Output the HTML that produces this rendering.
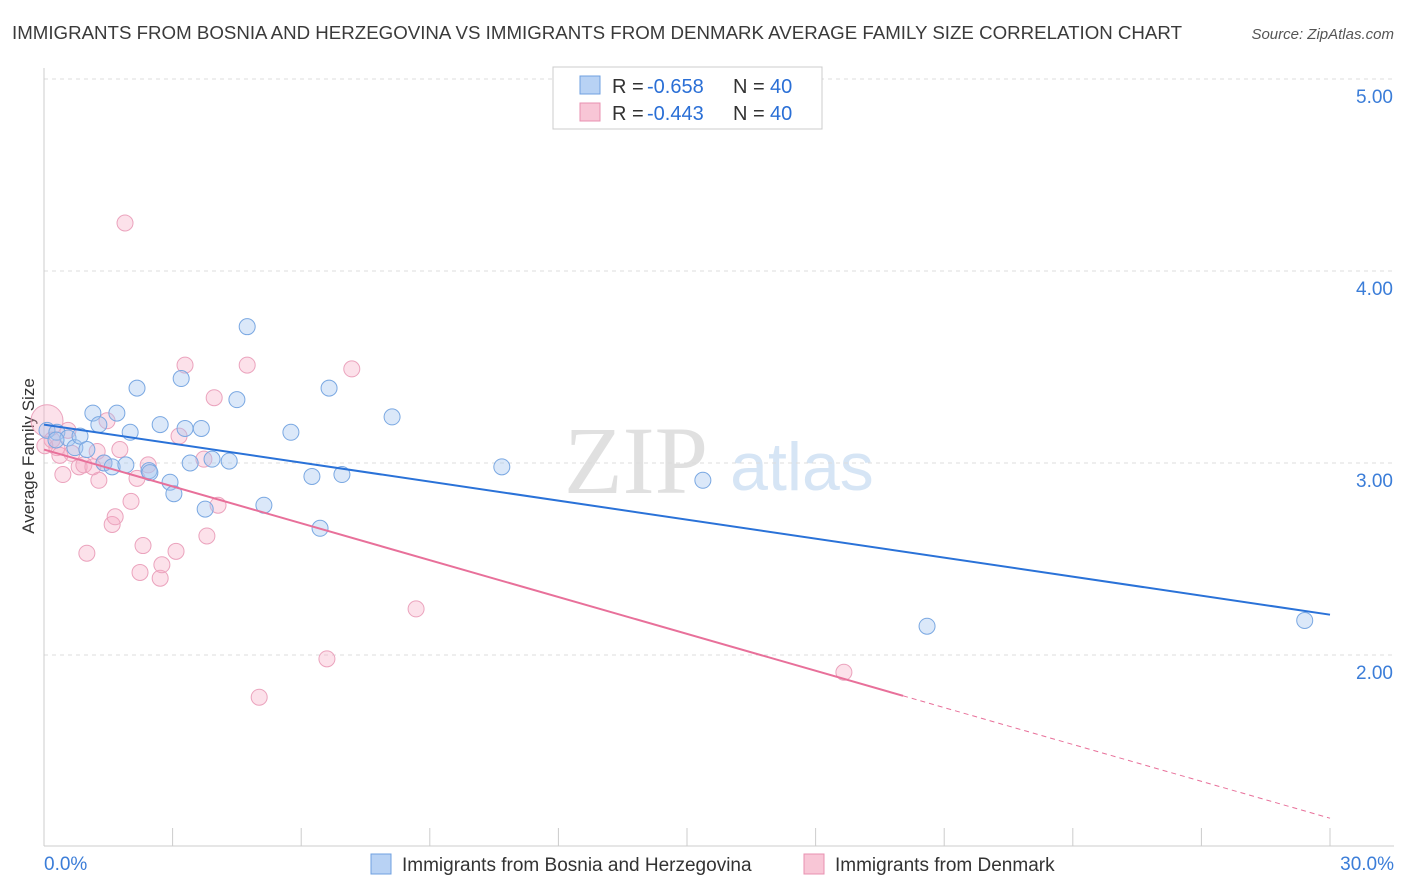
<!DOCTYPE html>
<html><head><meta charset="utf-8"><style>
body{margin:0;background:#fff;font-family:"Liberation Sans",sans-serif;}
#wrap{position:relative;width:1406px;height:892px;overflow:hidden}
</style></head><body>
<div id="wrap">
<svg id="svg" width="1406" height="892">
<text x="12" y="39" font-size="18" fill="#3a3a3a" textLength="1170" lengthAdjust="spacingAndGlyphs">IMMIGRANTS FROM BOSNIA AND HERZEGOVINA VS IMMIGRANTS FROM DENMARK AVERAGE FAMILY SIZE CORRELATION CHART</text>
<text x="1394" y="39" font-size="15" fill="#555" font-style="italic" text-anchor="end">Source: ZipAtlas.com</text>
<text x="636" y="493" font-size="96" fill="#e0e0e0" font-family="Liberation Serif,serif" text-anchor="middle">ZIP</text>
<text x="802" y="490" font-size="68" fill="#d6e5f5" text-anchor="middle">atlas</text>
<text transform="translate(34,456) rotate(-90)" font-size="17" fill="#333" text-anchor="middle">Average Family Size</text>
<g id="grid"></g><g id="marks"></g>
<g>
<rect x="553" y="67" width="269" height="62" fill="#fff" stroke="#ccc"/>
<rect x="580" y="76" width="20" height="18" fill="#b8d2f4" stroke="#6fa0e0"/>
<text x="612" y="93" font-size="20" fill="#333">R =</text>
<text x="647" y="93" font-size="20" fill="#2a6fd6">-0.658</text>
<text x="733" y="93" font-size="20" fill="#333">N =</text>
<text x="770" y="93" font-size="20" fill="#2a6fd6">40</text>
<rect x="580" y="103" width="20" height="18" fill="#f8c6d6" stroke="#e890b0"/>
<text x="612" y="120" font-size="20" fill="#333">R =</text>
<text x="647" y="120" font-size="20" fill="#2a6fd6">-0.443</text>
<text x="733" y="120" font-size="20" fill="#333">N =</text>
<text x="770" y="120" font-size="20" fill="#2a6fd6">40</text>
</g>
<g>
<rect x="371" y="854" width="20" height="20" fill="#b8d2f4" stroke="#6fa0e0"/>
<text x="402" y="871" font-size="19" fill="#333">Immigrants from Bosnia and Herzegovina</text>
<rect x="804" y="854" width="20" height="20" fill="#f8c6d6" stroke="#e890b0"/>
<text x="835" y="871" font-size="19" fill="#333">Immigrants from Denmark</text>
</g>
</svg></div>
<script>
const blueX=[0.07,0.30,0.56,0.72,0.84,1.14,1.28,1.40,1.59,1.70,1.91,2.01,2.17,2.45,2.47,2.71,2.94,3.03,3.20,3.29,3.41,3.67,3.76,3.92,4.32,4.50,4.74,5.13,5.76,6.25,6.44,6.65,6.95,8.12,10.68,15.37,20.60,29.41,1.00,0.28];
const blueY=[3.17,3.16,3.13,3.08,3.14,3.26,3.20,3.00,2.98,3.26,2.99,3.16,3.39,2.96,2.95,3.20,2.90,2.84,3.44,3.18,3.00,3.18,2.76,3.02,3.01,3.33,3.71,2.78,3.16,2.93,2.66,3.39,2.94,3.24,2.98,2.91,2.15,2.18,3.07,3.12];
const pinkX=[0.07,0.19,0.30,0.44,0.56,0.65,0.82,0.93,1.00,1.24,1.28,1.40,1.47,1.59,1.66,1.77,1.89,2.03,2.17,2.24,2.31,2.43,2.71,2.75,3.08,3.15,3.29,3.73,3.80,3.97,4.06,4.74,5.02,6.60,7.18,8.68,18.66,0.02,1.14,0.37];
const pinkY=[3.22,3.12,3.08,2.94,3.17,3.05,2.98,2.99,2.53,3.06,2.91,3.00,3.22,2.68,2.72,3.07,4.25,2.80,2.92,2.43,2.57,2.99,2.40,2.47,2.54,3.14,3.51,3.02,2.62,3.34,2.78,3.51,1.78,1.98,3.49,2.24,1.91,3.09,2.98,3.04];
const blueTrend=[3.20,2.21];
const pinkTrend=[3.07,1.15];
const yTicks=[2,3,4,5];
const yTickLabels=["2.00","3.00","4.00","5.00"];
const xTickLabels=["0.0%","30.0%"];
const NS="http://www.w3.org/2000/svg";
const sx=v=>44+v*42.867, sy=v=>463-(v-3)*192;
function mk(tag,attrs,parent){const e=document.createElementNS(NS,tag);for(const k in attrs)e.setAttribute(k,attrs[k]);parent.appendChild(e);return e;}
const grid=document.getElementById('grid'),marks=document.getElementById('marks');
yTicks.forEach((t,i)=>{
 const l=mk('line',{x1:44,x2:1394,y1:sy(t),y2:sy(t),stroke:'#ddd','stroke-dasharray':'4,4'},grid);
 
 
 const tx=mk('text',{x:1393,y:sy(t)+24,'font-size':19,fill:'#3b7dd8','text-anchor':'end'},grid);
 tx.textContent=yTickLabels[i];
 
 
});
const ax=mk('line',{x1:44,x2:1394,y1:846,y2:846,stroke:'#ccc'},grid);


const ay=mk('line',{x1:44,x2:44,y1:68,y2:846,stroke:'#ccc'},grid);


for(let i=0;i<=10;i++){const t=mk('line',{x1:sx(i*3),x2:sx(i*3),y1:828,y2:846,stroke:'#ccc'},grid);
 
 }
[[0,44,'start'],[30,1394,'end']].forEach((d,i)=>{const t=mk('text',{x:d[1],y:870,'font-size':19,fill:'#3b7dd8','text-anchor':d[2]},grid);t.textContent=xTickLabels[i];
 
 });
pinkX.forEach((x,i)=>{const c=mk('circle',{cx:sx(x),cy:sy(pinkY[i]),r:i===0?16:8,fill:'rgba(245,170,195,0.35)',stroke:'#eba3bd','stroke-width':1},marks);
 
 });
blueX.forEach((x,i)=>{const c=mk('circle',{cx:sx(x),cy:sy(blueY[i]),r:8,fill:'rgba(165,198,240,0.4)',stroke:'#7aa8e2','stroke-width':1},marks);
 
 });
const bl=mk('line',{x1:sx(0),y1:sy(blueTrend[0]),x2:sx(30),y2:sy(blueTrend[1]),stroke:'#2a72d8','stroke-width':2},marks);


const pf=x=>pinkTrend[0]+(pinkTrend[1]-pinkTrend[0])*x/30;
const pl=mk('line',{x1:sx(0),y1:sy(pf(0)),x2:sx(20.04),y2:sy(pf(20.04)),stroke:'#e8709a','stroke-width':2},marks);


const pd=mk('line',{x1:sx(20.04),y1:sy(pf(20.04)),x2:sx(30),y2:sy(pf(30)),stroke:'#e8709a','stroke-width':1,'stroke-dasharray':'5,4'},marks);


</script></body></html>
